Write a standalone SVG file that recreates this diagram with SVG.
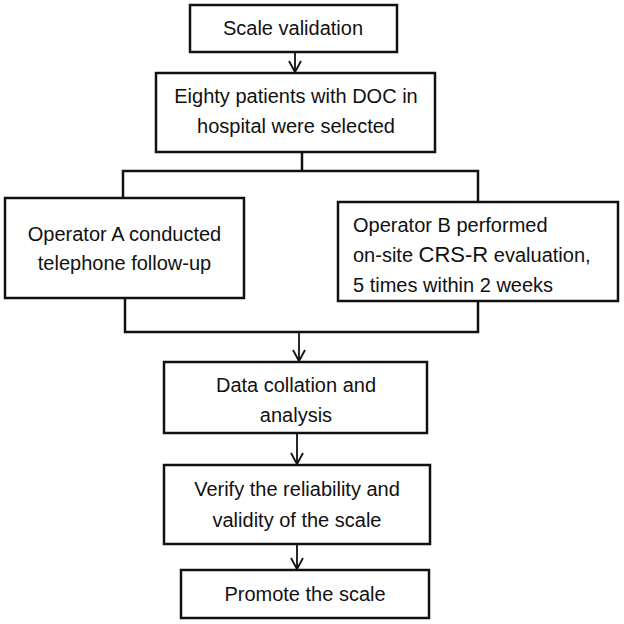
<svg xmlns="http://www.w3.org/2000/svg" width="624" height="624" viewBox="0 0 624 624">
<style>
.box{fill:#fff;stroke:#111;stroke-width:2.5}
.t{font-family:"Liberation Sans",Arial,sans-serif;font-size:20px;fill:#111;text-anchor:middle}
.tl{font-family:"Liberation Sans",Arial,sans-serif;font-size:20px;fill:#111}
.c{fill:none;stroke:#111;stroke-width:2.5}
.a{fill:none;stroke:#111;stroke-width:1.8}
</style>
<defs>
<marker id="ah" markerWidth="14" markerHeight="14" refX="12" refY="7" orient="auto" markerUnits="userSpaceOnUse" viewBox="0 0 14 14">
<path d="M1,1 L12,7 L1,13" fill="none" stroke="#111" stroke-width="1.8"/>
</marker>
</defs>
<rect width="624" height="624" fill="#fff"/>
<g id="connectors">
<line class="a" x1="295" y1="52" x2="295" y2="72" marker-end="url(#ah)"/>
<polyline class="c" points="302,152 302,171"/>
<polyline class="c" points="123,198 123,171 478,171 478,202"/>
<polyline class="c" points="125,298 125,332 478,332 478,301"/>
<line class="a" x1="299" y1="332" x2="299" y2="361" marker-end="url(#ah)"/>
<line class="a" x1="297" y1="433" x2="297" y2="464" marker-end="url(#ah)"/>
<line class="a" x1="297" y1="544" x2="297" y2="569" marker-end="url(#ah)"/>
</g>
<g id="n1">
<rect class="box" x="190" y="5" width="207" height="47"/>
<text class="t" x="293" y="35">Scale validation</text>
</g>
<g id="n2">
<rect class="box" x="156" y="73" width="279" height="79"/>
<text class="t" x="296" y="103">Eighty patients with DOC in</text>
<text class="t" x="296" y="133">hospital were selected</text>
</g>
<g id="n3">
<rect class="box" x="5" y="198" width="239" height="100"/>
<text class="t" x="124.5" y="241">Operator A conducted</text>
<text class="t" x="124.5" y="270">telephone follow-up</text>
</g>
<g id="n4">
<rect class="box" x="338" y="202" width="280" height="99"/>
<text class="tl" x="353" y="232">Operator B performed</text>
<text class="tl" x="353" y="262">on-site <tspan font-size="22">CRS-R</tspan> evaluation,</text>
<text class="tl" x="353" y="292">5 times within 2 weeks</text>
</g>
<g id="n5">
<rect class="box" x="164" y="362" width="263" height="71"/>
<text class="t" x="296" y="392">Data collation and</text>
<text class="t" x="296" y="422">analysis</text>
</g>
<g id="n6">
<rect class="box" x="164" y="465" width="266" height="79"/>
<text class="t" x="297" y="496">Verify the reliability and</text>
<text class="t" x="297" y="527">validity of the scale</text>
</g>
<g id="n7">
<rect class="box" x="181" y="570" width="248" height="48"/>
<text class="t" x="305" y="601">Promote the scale</text>
</g>
</svg>
